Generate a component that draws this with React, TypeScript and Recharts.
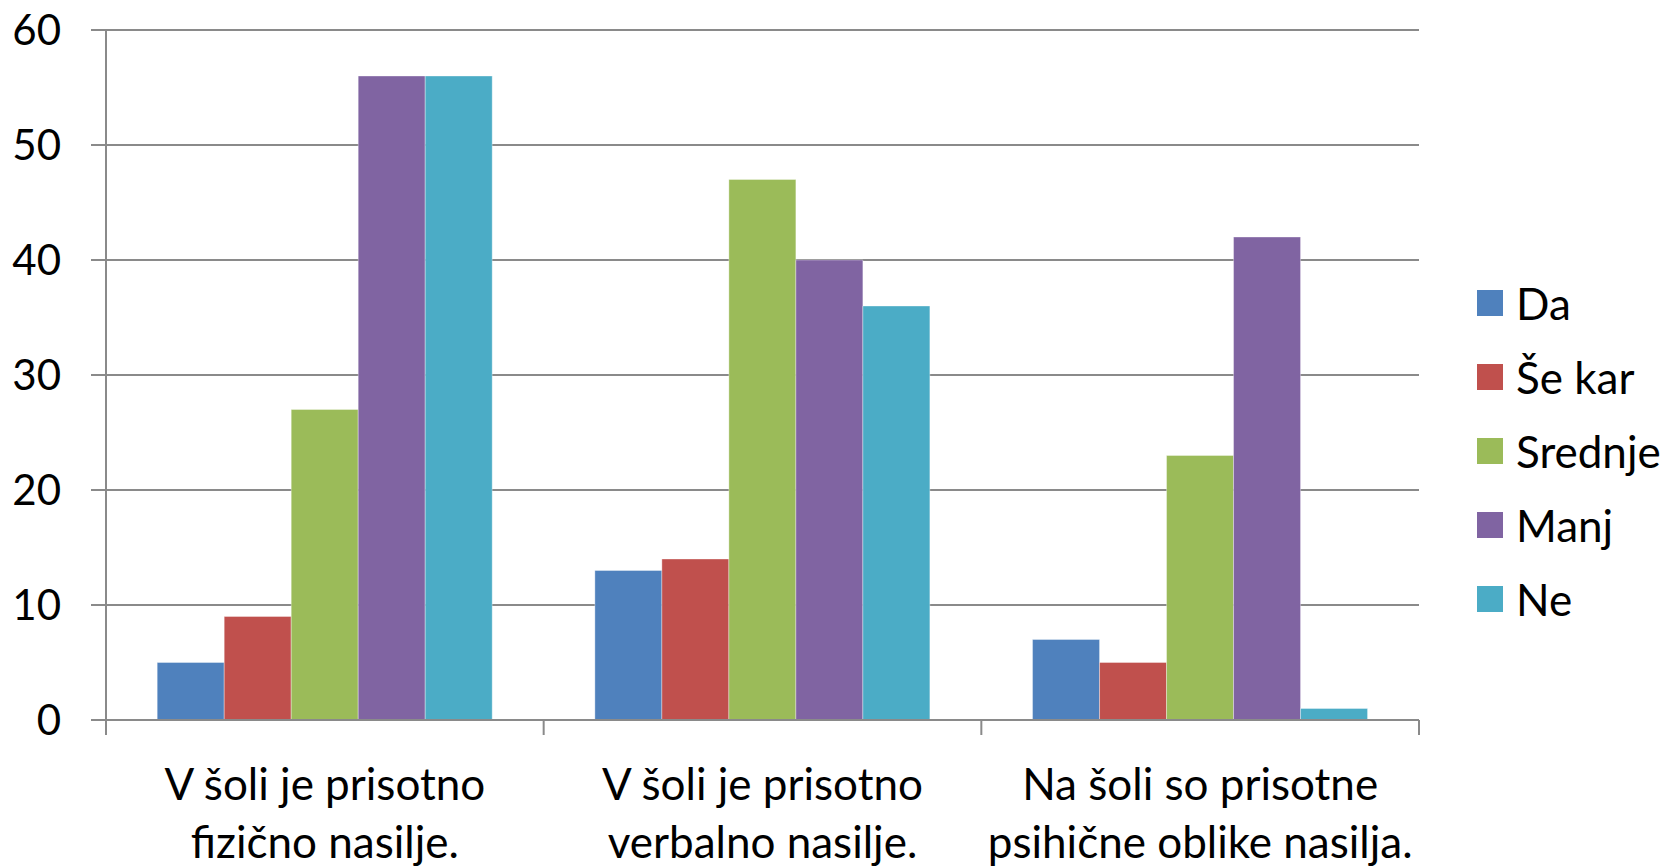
import React from "react";
import {
  Bar,
  BarChart,
  CartesianGrid,
  Legend,
  XAxis,
  YAxis,
} from "recharts";

const categories = [
  "V šoli je prisotno\nfizično nasilje.",
  "V šoli je prisotno\nverbalno nasilje.",
  "Na šoli so prisotne\npsihične oblike nasilja.",
];

const da = [5, 13, 7];
const seKar = [9, 14, 5];
const srednje = [27, 47, 23];
const manj = [56, 40, 42];
const ne = [56, 36, 1];

const yTicks = [0, 10, 20, 30, 40, 50, 60];

const series = [
  { key: "da", name: "Da", color: "#4F81BD" },
  { key: "seKar", name: "Še kar", color: "#C0504D" },
  { key: "srednje", name: "Srednje", color: "#9BBB59" },
  { key: "manj", name: "Manj", color: "#8064A2" },
  { key: "ne", name: "Ne", color: "#4BACC6" },
];

const data = categories.map((cat, i) => ({
  cat,
  da: da[i],
  seKar: seKar[i],
  srednje: srednje[i],
  manj: manj[i],
  ne: ne[i],
}));

const FONT = "Lato, 'Noto Sans', sans-serif";
const AXIS = "#8a8a8a";

const CategoryTick = (props: any) => {
  const { x, y, payload, width, visibleTicksCount, index } = props;
  const half =
    payload && payload.offset ? payload.offset : width / (visibleTicksCount || 1) / 2;
  const lines = String(payload.value).split("\n");
  return (
    <g>
      <line x1={x - half} x2={x - half} y1={y} y2={y + 15} stroke={AXIS} strokeWidth={2} />
      {index === categories.length - 1 && (
        <line x1={x + half} x2={x + half} y1={y} y2={y + 15} stroke={AXIS} strokeWidth={2} />
      )}
      <text textAnchor="middle" fontFamily={FONT} fontSize={44} fill="#000">
        {lines.map((l, i) => (
          <tspan key={i} x={x} y={y + 80 + i * 58}>
            {l}
          </tspan>
        ))}
      </text>
    </g>
  );
};

const LegendBox = () => (
  <div style={{ fontFamily: FONT, fontSize: 44, color: "#000" }}>
    {series.map((s) => (
      <div
        key={s.key}
        style={{ height: 74, display: "flex", alignItems: "center" }}
      >
        <span
          style={{
            width: 26,
            height: 26,
            background: s.color,
            display: "inline-block",
            marginRight: 13,
          }}
        />
        <span>{s.name}</span>
      </div>
    ))}
  </div>
);

const App = () => {
  return (
    <div style={{ position: "absolute", left: 0, top: 0, background: "#fff" }}>
      <BarChart
        width={1667}
        height={866}
        data={data}
        margin={{ top: 30, right: 58, left: 0, bottom: 0 }}
        barCategoryGap="11.7%"
        barGap={0}
      >
        <CartesianGrid vertical={false} stroke={AXIS} strokeWidth={2} />
        <XAxis
          dataKey="cat"
          height={146}
          tickSize={0}
          tickMargin={0}
          tickLine={false}
          axisLine={{ stroke: AXIS, strokeWidth: 2 }}
          tick={<CategoryTick />}
          interval={0}
        />
        <YAxis
          width={106}
          domain={[0, 60]}
          ticks={yTicks}
          tickSize={15}
          tickMargin={30}
          axisLine={{ stroke: AXIS, strokeWidth: 2 }}
          tickLine={{ stroke: AXIS, strokeWidth: 2 }}
          tick={{ fontFamily: FONT, fontSize: 42, fill: "#000" }}
        />
        <Legend
          layout="vertical"
          align="right"
          verticalAlign="top"
          width={190}
          wrapperStyle={{ left: 1477, top: 266 }}
          content={<LegendBox />}
        />
        {series.map((s) => (
          <Bar
            key={s.key}
            dataKey={s.key}
            name={s.name}
            fill={s.color}
            stroke="rgba(255,255,255,0.35)"
            strokeWidth={1}
            isAnimationActive={false}
          />
        ))}
      </BarChart>
    </div>
  );
};

export default App;
